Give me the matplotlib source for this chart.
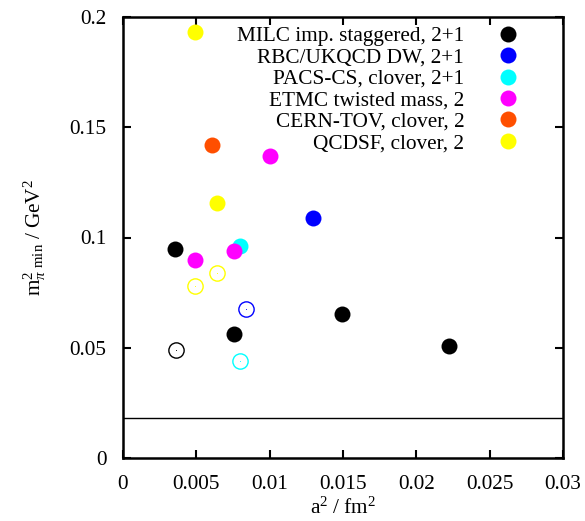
import matplotlib
matplotlib.use("Agg")
import matplotlib.pyplot as plt
from matplotlib.lines import Line2D

plt.rcParams['font.family'] = ['Liberation Serif', 'DejaVu Serif']
plt.rcParams['mathtext.fontset'] = 'custom'
plt.rcParams['mathtext.rm'] = 'Liberation Serif'
plt.rcParams['mathtext.it'] = 'Liberation Serif:italic'

labels = ["MILC imp. staggered, 2+1", "RBC/UKQCD DW, 2+1", "PACS-CS, clover, 2+1",
          "ETMC twisted mass, 2", "CERN-TOV, clover, 2", "QCDSF, clover, 2"]
colors = ["#000000", "#0000ff", "#00ffff", "#ff00ff", "#ff4f00", "#ffff00"]

# filled points (a^2 in fm^2, m_pi^2 min in GeV^2)
filled_x = [[0.00355, 0.00757, 0.01490, 0.02220],
            [0.01298],
            [0.00800],
            [0.01000, 0.00489, 0.00757],
            [0.00605],
            [0.00489, 0.00639]]
filled_y = [[0.0948, 0.0563, 0.0653, 0.0507],
            [0.1087],
            [0.0960],
            [0.1370, 0.0898, 0.0939],
            [0.1418],
            [0.1933, 0.1155]]

# open points
open_x = [[0.00359], [0.00839], [0.00800], [], [], [0.00489, 0.00639]]
open_y = [[0.0490], [0.0674], [0.0440], [], [], [0.0782, 0.0839]]

phys_line = 0.0182

xticks = [0, 0.005, 0.01, 0.015, 0.02, 0.025, 0.03]
xticklabels = ["0", "0.005", "0.01", "0.015", "0.02", "0.025", "0.03"]
yticks = [0, 0.05, 0.1, 0.15, 0.2]
yticklabels = ["0", "0.05", "0.1", "0.15", "0.2"]

fig = plt.figure(figsize=(5.85, 5.21), dpi=100)
ax = fig.add_axes([123/585, 1 - 458/521, (563-123)/585, (458-17)/521])

FS = 15.3
handles = []
for i in range(len(labels)):
    ax.plot(filled_x[i], filled_y[i], linestyle='none', marker='o', ms=11.5,
            mfc=colors[i], mec=colors[i], mew=0, zorder=3)
    if open_x[i]:
        ax.plot(open_x[i], open_y[i], linestyle='none', marker='o', ms=11,
                mfc='none', mec=colors[i], mew=1.0, zorder=3)
        ax.plot(open_x[i], open_y[i], linestyle='none', marker='.', ms=1.5,
                mfc=colors[i], mec=colors[i], mew=0, zorder=3)
    handles.append(Line2D([], [], linestyle='none', marker='o', ms=11.5,
                          mfc=colors[i], mec=colors[i], mew=0))

ax.axhline(phys_line, color='black', lw=1.0, zorder=2)

ax.set_xlim(0, 0.03)
ax.set_ylim(0, 0.2)
ax.set_xticks(xticks)
ax.set_xticklabels(xticklabels)
ax.set_yticks(yticks)
ax.set_yticklabels(yticklabels)
ax.tick_params(direction='in', length=6, width=1.5, top=True, right=True,
               labelsize=FS)
ax.tick_params(axis='x', pad=12)
ax.tick_params(axis='y', pad=12)
for sp in ax.spines.values():
    sp.set_linewidth(1.8)

ax.set_xlabel(r'$\mathrm{a}^{2}\ /\ \mathrm{fm}^{2}$', fontsize=FS, labelpad=3)
ax.set_ylabel(r'$\mathrm{m}_{\pi}^{2}{}_{\ \mathrm{min}}\ /\ \mathrm{GeV}^{2}$', fontsize=FS, labelpad=15)

leg = ax.legend(handles, labels, loc='upper right', markerfirst=False, frameon=False,
                fontsize=FS, labelspacing=0.07, handlelength=1.0, handletextpad=1.55,
                borderaxespad=0.0, bbox_to_anchor=(0.918, 0.998))

fig.savefig("out.png", dpi=100)
